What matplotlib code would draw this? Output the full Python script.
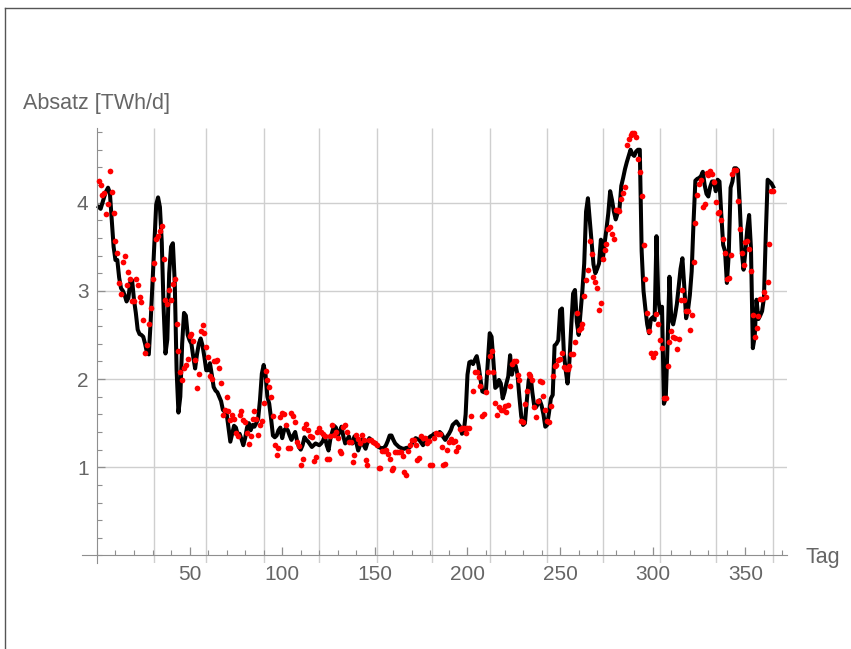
import numpy as np
import matplotlib
matplotlib.use("Agg")
import matplotlib.pyplot as plt
from matplotlib.lines import Line2D
from matplotlib.ticker import MultipleLocator

plt.rcParams['font.family'] = ['Liberation Sans', 'DejaVu Sans']

# Modell (schwarze Linie), Tag 1..365
modell = [
    3.95, 3.93, 4.00, 4.07, 4.13, 4.17, 4.11, 3.80, 3.50, 3.35,
    3.35, 3.15, 3.03, 3.00, 2.95, 2.88, 2.92, 3.10, 3.12, 2.90,
    2.75, 2.56, 2.51, 2.50, 2.48, 2.40, 2.30, 2.28, 2.65, 3.10,
    3.55, 3.98, 4.06, 3.95, 3.55, 2.80, 2.29, 2.45, 3.20, 3.50,
    3.54, 3.10, 2.10, 1.62, 1.80, 2.40, 2.75, 2.72, 2.50, 2.44,
    2.40, 2.25, 2.12, 2.28, 2.40, 2.46, 2.38, 2.25, 2.10, 2.10,
    2.18, 2.05, 1.91, 1.87, 1.85, 1.80, 1.75, 1.65, 1.63, 1.61,
    1.45, 1.29, 1.38, 1.47, 1.45, 1.37, 1.38, 1.32, 1.25, 1.33,
    1.45, 1.50, 1.42, 1.48, 1.46, 1.50, 1.55, 1.76, 2.06, 2.16,
    2.05, 1.80, 1.72, 1.55, 1.36, 1.34, 1.36, 1.42, 1.45, 1.33,
    1.42, 1.44, 1.42, 1.36, 1.31, 1.36, 1.40, 1.30, 1.23, 1.20,
    1.25, 1.34, 1.31, 1.29, 1.26, 1.23, 1.25, 1.27, 1.26, 1.25,
    1.27, 1.30, 1.36, 1.25, 1.19, 1.32, 1.40, 1.47, 1.45, 1.36,
    1.40, 1.46, 1.35, 1.27, 1.31, 1.35, 1.28, 1.27, 1.35, 1.28,
    1.19, 1.25, 1.31, 1.25, 1.21, 1.28, 1.33, 1.31, 1.29, 1.27,
    1.25, 1.23, 1.22, 1.21, 1.22, 1.25, 1.30, 1.36, 1.36, 1.31,
    1.27, 1.25, 1.23, 1.22, 1.21, 1.21, 1.22, 1.22, 1.23, 1.27,
    1.30, 1.33, 1.32, 1.31, 1.28, 1.25, 1.28, 1.31, 1.33, 1.35,
    1.36, 1.38, 1.38, 1.38, 1.40, 1.38, 1.34, 1.31, 1.35, 1.38,
    1.42, 1.48, 1.50, 1.52, 1.49, 1.46, 1.38, 1.40, 1.60, 2.05,
    2.19, 2.20, 2.17, 2.22, 2.26, 2.15, 2.00, 1.86, 1.85, 1.88,
    2.20, 2.52, 2.48, 2.20, 1.90, 1.92, 1.99, 1.95, 1.78, 1.85,
    1.95, 2.03, 2.27, 2.05, 2.18, 2.15, 2.05, 1.80, 1.58, 1.48,
    1.50, 1.75, 1.98, 2.05, 1.85, 1.70, 1.68, 1.72, 1.76, 1.70,
    1.60, 1.46, 1.48, 1.62, 1.78, 1.82, 2.38, 2.40, 2.44, 2.78,
    2.80, 2.30, 2.10, 1.95, 2.20, 2.60, 2.97, 3.01, 2.65, 2.50,
    2.75, 3.00, 3.31, 3.90, 4.05, 3.80, 3.54, 3.30, 3.20, 3.25,
    3.31, 3.58, 3.35, 3.54, 3.70, 3.88, 4.13, 4.03, 3.90, 3.81,
    3.88, 3.92, 4.19, 4.28, 4.38, 4.46, 4.53, 4.60, 4.55, 4.53,
    4.58, 4.60, 4.60, 3.45, 3.00, 2.80, 2.62, 2.52, 2.68, 2.70,
    2.67, 3.62, 2.90, 2.75, 2.82, 1.72, 1.78, 2.40, 3.16, 2.68,
    2.62, 2.72, 2.85, 3.05, 3.25, 3.37, 3.05, 2.69, 2.78, 2.95,
    3.22, 3.78, 4.25, 4.27, 4.28, 4.30, 4.35, 4.20, 4.10, 4.07,
    4.18, 4.24, 4.24, 4.13, 4.26, 4.24, 3.86, 3.52, 3.45, 3.09,
    3.41, 4.17, 4.24, 4.39, 4.39, 4.37, 3.95, 3.45, 3.24, 3.45,
    3.70, 3.86, 3.48, 2.35, 2.48, 2.90, 2.68, 2.72, 2.77, 2.92,
    3.64, 4.26, 4.24, 4.22, 4.18,
]

# Messwerte (rote Punkte), Tag 1..365
messung = [
    4.25, 4.20, 4.09, 4.11, 3.87, 3.99, 4.36, 4.12, 3.88, 3.56,
    3.43, 3.09, 2.96, 3.33, 3.40, 3.07, 3.21, 3.13, 2.89, 2.89,
    3.14, 3.07, 2.93, 2.87, 2.67, 2.29, 2.39, 2.62, 2.81, 3.13,
    3.32, 3.59, 3.62, 3.68, 3.74, 3.36, 2.90, 2.85, 3.01, 2.90,
    3.08, 3.14, 2.63, 2.32, 2.08, 1.99, 2.12, 2.16, 2.23, 2.49,
    2.51, 2.43, 2.22, 1.90, 2.06, 2.54, 2.61, 2.52, 2.36, 2.25,
    2.04, 2.00, 2.21, 2.20, 2.22, 2.12, 1.96, 1.59, 1.65, 1.80,
    1.64, 1.54, 1.59, 1.55, 1.39, 1.36, 1.59, 1.64, 1.54, 1.51,
    1.39, 1.26, 1.36, 1.55, 1.64, 1.55, 1.37, 1.48, 1.52, 1.73,
    2.09, 1.99, 1.91, 1.80, 1.58, 1.25, 1.14, 1.22, 1.57, 1.61,
    1.60, 1.48, 1.22, 1.22, 1.61, 1.58, 1.51, 1.29, 1.24, 1.03,
    1.09, 1.44, 1.49, 1.42, 1.36, 1.34, 1.07, 1.12, 1.40, 1.45,
    1.40, 1.38, 1.35, 1.09, 1.09, 1.35, 1.48, 1.37, 1.40, 1.33,
    1.18, 1.16, 1.46, 1.48, 1.40, 1.29, 1.29, 1.06, 1.14, 1.37,
    1.32, 1.27, 1.37, 1.31, 1.08, 1.03, 1.31, 1.31, 1.29, 1.27,
    1.25, 0.99, 0.99, 1.18, 1.18, 1.20, 1.15, 1.09, 0.97, 0.99,
    1.17, 1.17, 1.17, 1.17, 1.13, 0.95, 0.91, 1.18, 1.25, 1.31,
    1.31, 1.25, 1.08, 1.10, 1.35, 1.33, 1.33, 1.27, 1.30, 1.03,
    1.02, 1.33, 1.39, 1.38, 1.38, 1.23, 1.03, 1.04, 1.20, 1.29,
    1.32, 1.29, 1.30, 1.18, 1.23, 1.43, 1.44, 1.45, 1.39, 1.45,
    1.44, 1.58, 1.86, 2.08, 2.08, 2.02, 1.92, 1.58, 1.60, 1.85,
    2.08, 2.26, 2.32, 2.08, 1.73, 1.59, 1.68, 1.65, 1.65, 1.69,
    1.63, 1.71, 1.92, 2.17, 2.20, 2.20, 2.05, 1.99, 1.53, 1.51,
    1.72, 1.86, 2.06, 2.03, 1.99, 1.68, 1.57, 1.75, 1.98, 1.97,
    1.81, 1.65, 1.52, 1.51, 1.69, 2.03, 2.15, 2.16, 2.22, 2.23,
    2.29, 2.14, 2.11, 2.11, 2.15, 2.28, 2.28, 2.42, 2.75, 2.56,
    2.58, 2.63, 2.94, 3.12, 3.24, 3.57, 3.42, 3.16, 3.10, 3.03,
    2.78, 2.86, 3.36, 3.46, 3.53, 3.70, 3.72, 3.65, 3.59, 3.92,
    3.92, 3.90, 4.04, 4.11, 4.18, 4.65, 4.72, 4.77, 4.79, 4.79,
    4.75, 4.50, 4.35, 4.07, 3.52, 3.13, 2.75, 2.54, 2.29, 2.25,
    2.29, 2.74, 2.63, 2.44, 2.35, 1.79, 1.79, 2.15, 2.42, 2.54,
    2.48, 2.46, 2.34, 2.45, 2.90, 3.01, 2.90, 2.77, 2.77, 2.56,
    2.73, 3.33, 3.77, 4.09, 4.21, 4.26, 3.95, 3.98, 4.34, 4.31,
    4.36, 4.32, 4.23, 4.01, 3.88, 3.89, 3.80, 3.59, 3.43, 3.14,
    3.15, 3.41, 4.33, 4.37, 4.37, 4.02, 3.70, 3.43, 3.29, 3.55,
    3.57, 3.47, 3.22, 2.73, 2.48, 2.58, 2.71, 2.91, 2.91, 2.99,
    2.93, 3.10, 3.53, 4.13, 4.13,
]

tage = np.arange(1, len(modell) + 1)
monatsgrenzen = [31, 59, 90, 120, 151, 181, 212, 243, 273, 304, 334, 365]

grau = '#666666'
achse = '#8f8f8f'

fig = plt.figure(figsize=(8.51, 6.49), dpi=100)
ax = fig.add_axes([82.1 / 851, 1 - 563.4 / 649, 705 / 851, 435.7 / 649])
ax.set_xlim(-8, 372.5)
ax.set_ylim(-0.09, 4.85)

# Gitter
ax.vlines(monatsgrenzen, -0.09, 4.85, color='#cfcfcf', lw=1.0, zorder=0)
ax.hlines([1, 2, 3, 4], 0, 372.5, color='#cfcfcf', lw=1.0, zorder=0)

ax.plot(tage, modell, color='black', lw=2.9, solid_joinstyle='round', zorder=2)
ax.plot(np.arange(1, len(messung) + 1), messung, 'o', color='red', ms=4.1,
        mew=0, zorder=3)

# Achsen wie bei Mathematica
for s in ['top', 'right']:
    ax.spines[s].set_visible(False)
ax.spines['left'].set_position(('data', 0))
ax.spines['bottom'].set_position(('data', 0))
ax.spines['left'].set_color(achse)
ax.spines['bottom'].set_color(achse)

ax.xaxis.set_minor_locator(MultipleLocator(10))
ax.yaxis.set_minor_locator(MultipleLocator(0.2))
ax.set_xticks([50, 100, 150, 200, 250, 300, 350])
ax.set_yticks([1, 2, 3, 4])
ax.tick_params(which='both', direction='in', color=achse, labelcolor=grau,
               labelsize=15)
ax.tick_params(which='major', length=6, width=0.9)
ax.tick_params(which='minor', length=3.5, width=0.8)
ax.tick_params(axis='x', pad=7)
ax.tick_params(axis='y', pad=6)

fig.text(22.7 / 851, 1 - 109.3 / 649, 'Absatz [TWh/d]', color=grau,
         fontsize=15.5, va='baseline', ha='left')
fig.text(806 / 851, 1 - 563 / 649, 'Tag', color=grau, fontsize=15.5,
         va='baseline', ha='left')

# Rahmen
fig.add_artist(Line2D([4.5 / 851, 4.5 / 851], [0, 1 - 8 / 649],
                      transform=fig.transFigure, color='#555555', lw=1))
fig.add_artist(Line2D([4.5 / 851, 1], [1 - 8 / 649, 1 - 8 / 649],
                      transform=fig.transFigure, color='#555555', lw=1))

fig.savefig('out.png', dpi=100)
